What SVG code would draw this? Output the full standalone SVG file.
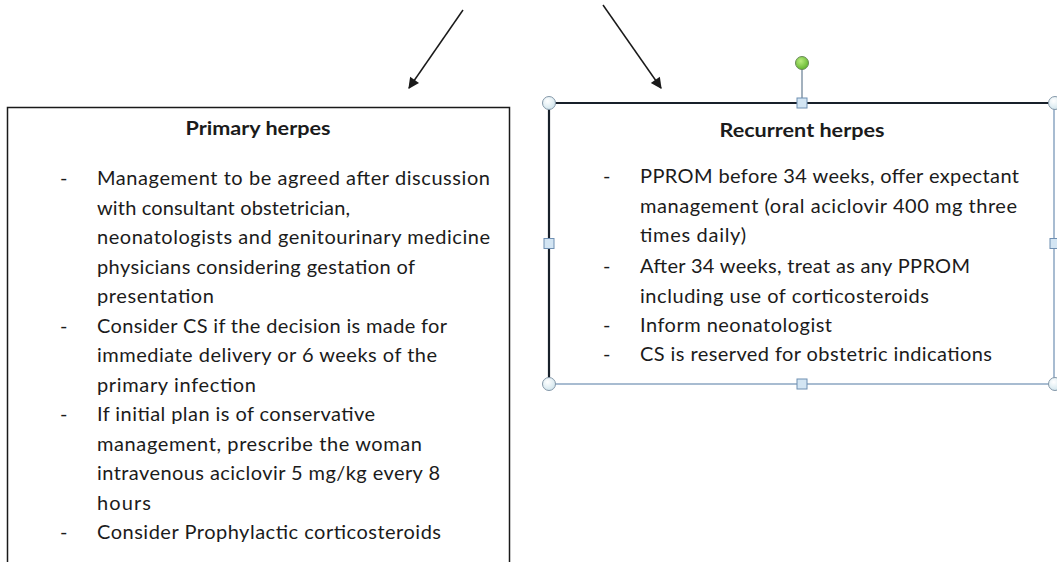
<svg xmlns="http://www.w3.org/2000/svg" width="1057" height="562" viewBox="0 0 1057 562">
<style>
  .t { font-family: Lato, "Open Sans", "Liberation Sans", sans-serif; font-size: 20px; fill: #1b1b1b; }
  .h { font-family: Lato, "Open Sans", "Liberation Sans", sans-serif; font-size: 19.5px; font-weight: bold; fill: #1b1b1b; text-anchor: middle; }
  .conn { stroke: #1a1a1a; stroke-width: 1.5; fill: none; }
  .hc { fill: url(#hg); stroke: #8497a8; stroke-width: 1; }
  .hs { fill: #d3e5f3; stroke: #6f8fb2; stroke-width: 1; }
</style>
<defs>
  <marker id="ah" viewBox="0 0 10 10" refX="9" refY="5" markerWidth="13" markerHeight="11" markerUnits="userSpaceOnUse" orient="auto">
    <path d="M0,0 L10,5 L0,10 z" fill="#1a1a1a"/>
  </marker>
  <radialGradient id="hg" cx="0.4" cy="0.35" r="0.7">
    <stop offset="0" stop-color="#ffffff"/>
    <stop offset="1" stop-color="#cfe4ec"/>
  </radialGradient>
  <radialGradient id="gg" cx="0.4" cy="0.35" r="0.7">
    <stop offset="0" stop-color="#b8ec7c"/>
    <stop offset="1" stop-color="#5eb22a"/>
  </radialGradient>
</defs>
<rect width="1057" height="562" fill="#ffffff"/>

<g id="connectors">
  <line class="conn" x1="463" y1="10" x2="409" y2="88" marker-end="url(#ah)"/>
  <line class="conn" x1="603" y1="5" x2="661" y2="88" marker-end="url(#ah)"/>
</g>

<g id="primary-herpes">
  <rect x="7.5" y="107.5" width="502" height="480" fill="#ffffff" stroke="#1a1a1a" stroke-width="1.5"/>
  <text class="h" x="258" y="135" textLength="145" lengthAdjust="spacingAndGlyphs">Primary herpes</text>
  <text class="t" x="60" y="185">-</text>
  <text class="t" x="97" y="185" textLength="393" lengthAdjust="spacing">Management to be agreed after discussion</text>
  <text class="t" x="97" y="214.5" textLength="253" lengthAdjust="spacing">with consultant obstetrician,</text>
  <text class="t" x="97" y="244" textLength="393" lengthAdjust="spacing">neonatologists and genitourinary medicine</text>
  <text class="t" x="97" y="273.5" textLength="318" lengthAdjust="spacing">physicians considering gestation of</text>
  <text class="t" x="97" y="303" textLength="117" lengthAdjust="spacing">presentation</text>
  <text class="t" x="60" y="332.5">-</text>
  <text class="t" x="97" y="332.5" textLength="350" lengthAdjust="spacing">Consider CS if the decision is made for</text>
  <text class="t" x="97" y="362" textLength="340" lengthAdjust="spacing">immediate delivery or 6 weeks of the</text>
  <text class="t" x="97" y="391.5" textLength="159" lengthAdjust="spacing">primary infection</text>
  <text class="t" x="60" y="421">-</text>
  <text class="t" x="97" y="421" textLength="278" lengthAdjust="spacing">If initial plan is of conservative</text>
  <text class="t" x="97" y="450.5" textLength="325" lengthAdjust="spacing">management, prescribe the woman</text>
  <text class="t" x="97" y="480" textLength="343" lengthAdjust="spacing">intravenous aciclovir 5 mg/kg every 8</text>
  <text class="t" x="97" y="509.5" textLength="54" lengthAdjust="spacing">hours</text>
  <text class="t" x="60" y="539">-</text>
  <text class="t" x="97" y="539" textLength="344" lengthAdjust="spacing">Consider Prophylactic corticosteroids</text>
</g>

<g id="recurrent-herpes">
  <rect x="549" y="103" width="505" height="281" fill="#ffffff" stroke="#6f8fb2" stroke-width="1.2"/>
  <path d="M549,384 L549,103 L1054,103" fill="none" stroke="#18202a" stroke-width="2.2"/>
  <text class="h" x="802" y="137" textLength="165" lengthAdjust="spacingAndGlyphs">Recurrent herpes</text>
  <text class="t" x="603" y="183">-</text>
  <text class="t" x="640" y="183" textLength="379" lengthAdjust="spacing">PPROM before 34 weeks, offer expectant</text>
  <text class="t" x="640" y="212.5" textLength="377" lengthAdjust="spacing">management (oral aciclovir 400 mg three</text>
  <text class="t" x="640" y="242" textLength="106" lengthAdjust="spacing">times daily)</text>
  <text class="t" x="603" y="273">-</text>
  <text class="t" x="640" y="273" textLength="330" lengthAdjust="spacing">After 34 weeks, treat as any PPROM</text>
  <text class="t" x="640" y="302.5" textLength="289" lengthAdjust="spacing">including use of corticosteroids</text>
  <text class="t" x="603" y="332">-</text>
  <text class="t" x="640" y="332" textLength="192" lengthAdjust="spacing">Inform neonatologist</text>
  <text class="t" x="603" y="361">-</text>
  <text class="t" x="640" y="361" textLength="352" lengthAdjust="spacing">CS is reserved for obstetric indications</text>
  <!-- selection handles -->
  <line x1="802" y1="69" x2="802" y2="98" stroke="#8497a8" stroke-width="1.5"/>
  <circle cx="802" cy="63" r="6.5" fill="url(#gg)" stroke="#6a8a5a" stroke-width="1"/>
  <circle class="hc" cx="549" cy="103" r="6.5"/>
  <circle class="hc" cx="1055" cy="103" r="6.5"/>
  <circle class="hc" cx="549" cy="384" r="6.5"/>
  <circle class="hc" cx="1055" cy="384" r="6.5"/>
  <rect class="hs" x="797" y="98" width="10" height="10"/>
  <rect class="hs" x="797" y="379" width="10" height="10"/>
  <rect class="hs" x="544" y="238.5" width="10" height="10"/>
  <rect class="hs" x="1050" y="238.5" width="10" height="10"/>
</g>
</svg>
